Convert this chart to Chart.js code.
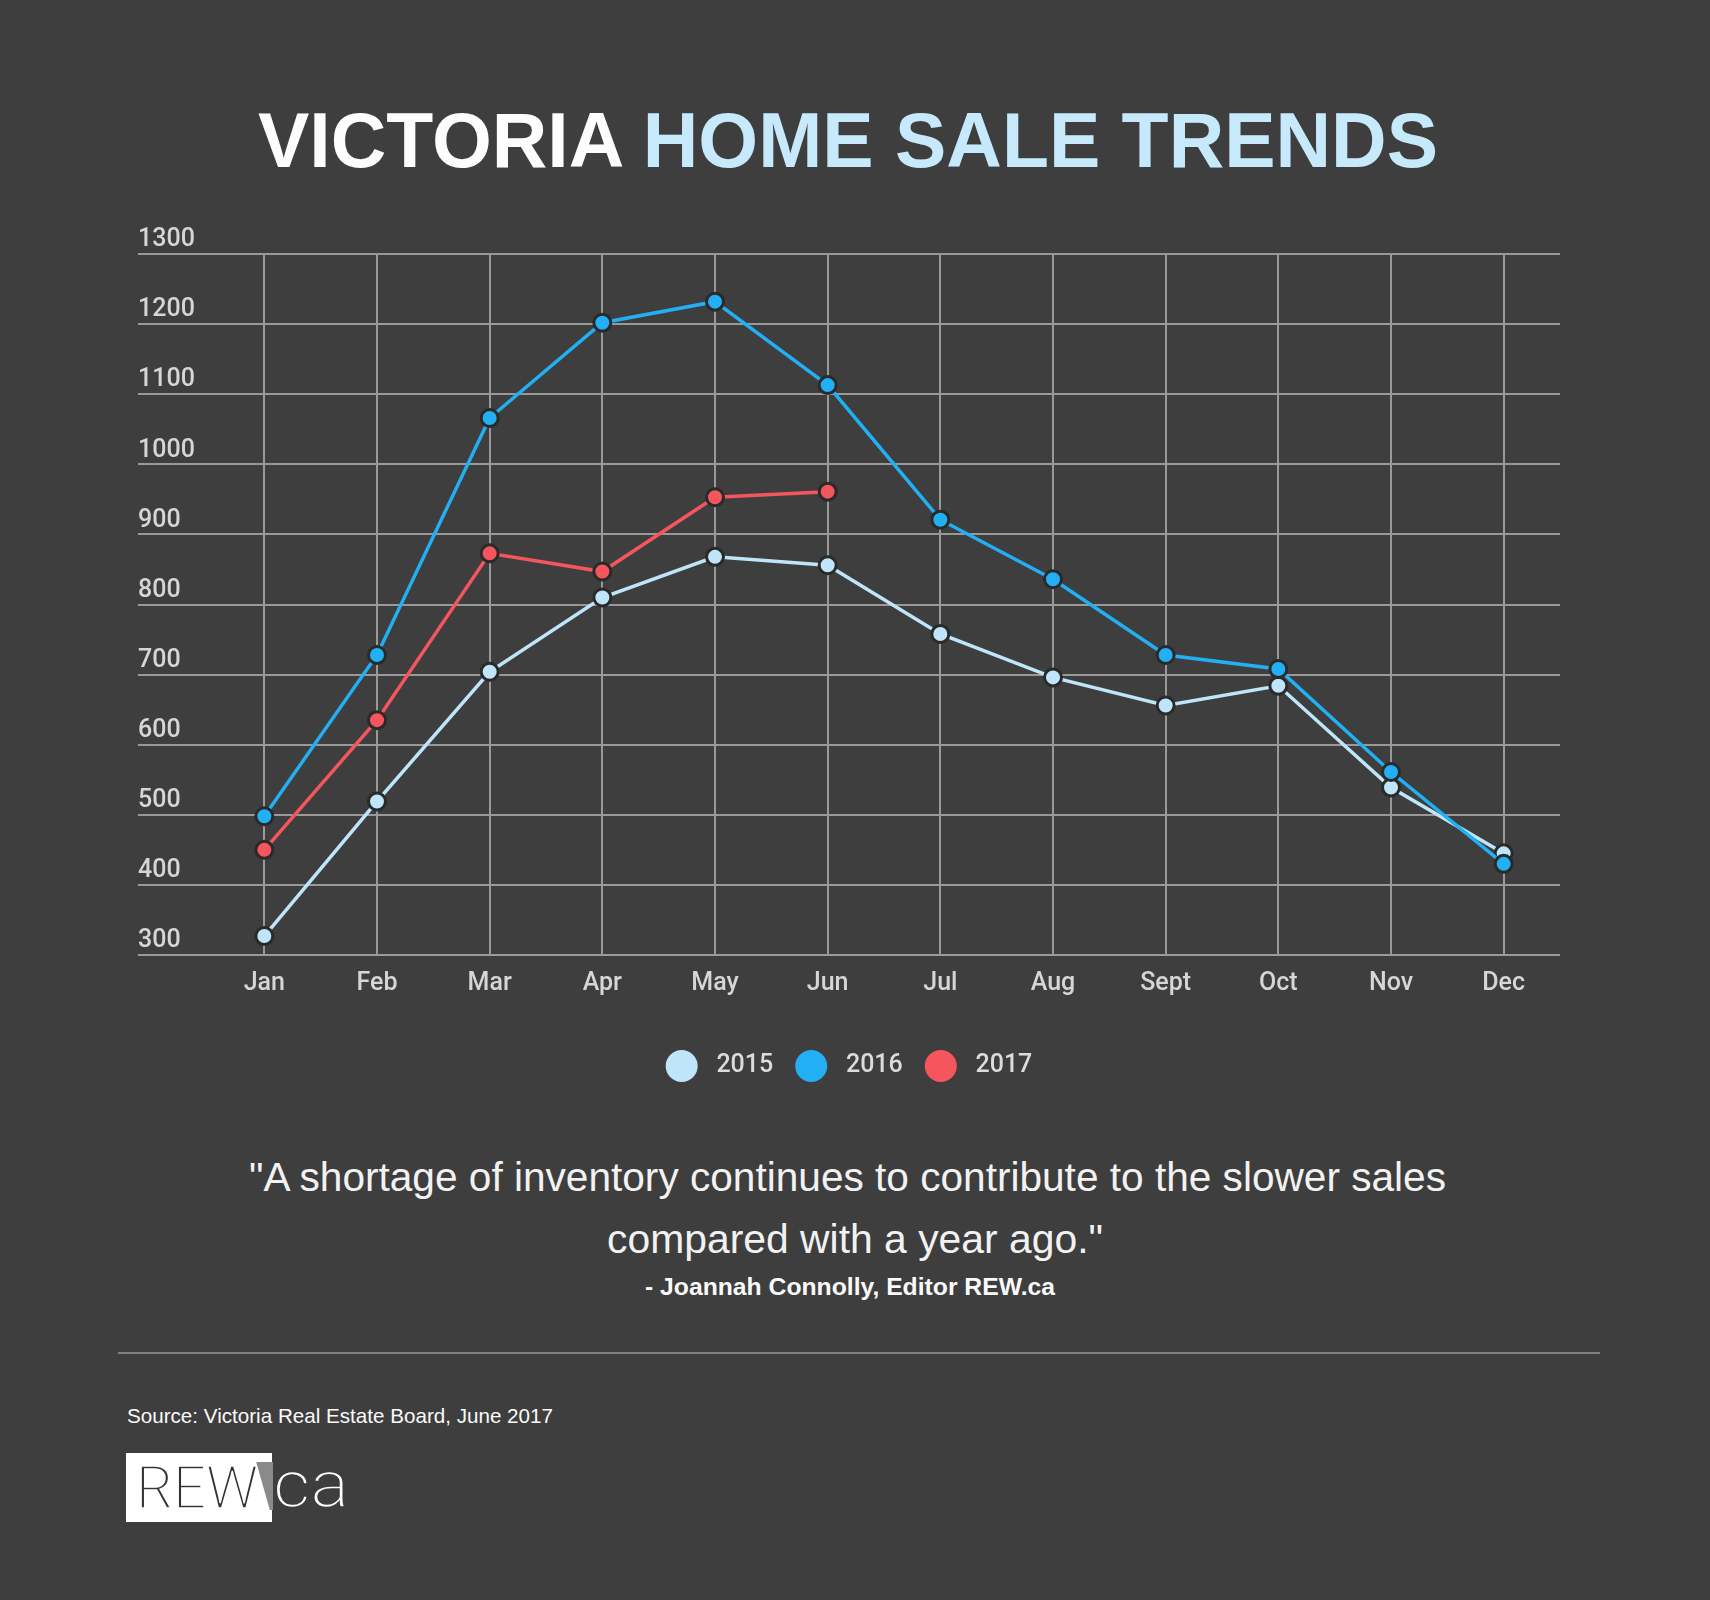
<!DOCTYPE html>
<html><head><meta charset="utf-8">
<script src="https://cdn.jsdelivr.net/npm/chart.js@4.4.1/dist/chart.umd.min.js"></script>
<style>
html,body{margin:0;padding:0;background:#3e3e3e;}
body{width:1710px;height:1600px;position:relative;overflow:hidden;font-family:"Liberation Sans",Arial,sans-serif;}
.t{position:absolute;white-space:nowrap;line-height:1;transform-origin:0 0;}
#title{left:258px;top:100.7px;font-size:78px;font-weight:bold;color:#fdfdfd;}
#title .hl{color:#c6e9fc;}
#chartWrap{position:absolute;left:0;top:200px;width:1710px;height:892px;}
.q{font-size:40.5px;color:#f2f2f2;}
#q1{left:249px;top:1156.7px;}
#q2{left:607px;top:1218.7px;}
#attr{left:645px;top:1275.3px;font-size:24.5px;font-weight:bold;color:#fafafa;}
#rule{position:absolute;left:118px;top:1352px;width:1482px;height:2px;background:#808080;}
#src{left:126.5px;top:1405.5px;font-size:20.3px;color:#fafafa;}
#logoBox{position:absolute;left:126px;top:1453px;width:146px;height:69px;background:#fff;}
.logo{font-family:"Roboto Light","Open Sans Light","Lato Light","Roboto","Open Sans",sans-serif;font-weight:300;}
#rew{left:136px;top:1458px;font-size:60px;color:#333;-webkit-text-stroke:1.4px #fff;}
#ca{left:273px;top:1452px;font-size:66px;color:#fff;-webkit-text-stroke:1.4px #3e3e3e;}
#fold{position:absolute;left:252px;top:1462px;width:21px;height:48px;background:#8a8a8a;clip-path:polygon(20% 0,100% 0,100% 100%,85% 100%);}
</style>
</head>
<body>
<div id="title" class="t" data-w="1180">VICTORIA <span class="hl">HOME SALE TRENDS</span></div>
<div id="chartWrap"><canvas id="c" width="1710" height="892"></canvas></div>
<div id="q1" class="t q" data-w="1197">"A shortage of inventory continues to contribute to the slower sales</div>
<div id="q2" class="t q" data-w="496">compared with a year ago."</div>
<div id="attr" class="t" data-w="410">- Joannah Connolly, Editor REW.ca</div>
<div id="rule"></div>
<div id="src" class="t" data-w="426">Source: Victoria Real Estate Board, June 2017</div>
<div id="logoBox"></div>
<div id="rew" class="t logo" data-w="122">REW</div>
<div id="fold"></div>
<div id="ca" class="t logo" data-w="76">ca</div>
<script>
// ---- data ----
const months = ['Jan','Feb','Mar','Apr','May','Jun','Jul','Aug','Sept','Oct','Nov','Dec'];
const seriesNames = ['2015','2016','2017'];
const sales2015 = [327, 519, 704, 810, 868, 856, 758, 696, 656, 684, 539, 445];
const sales2016 = [498, 728, 1066, 1202, 1232, 1113, 921, 836, 728, 708, 561, 430];
const sales2017 = [450, 635, 873, 847, 953, 961, null, null, null, null, null, null];
const yMin = 300, yMax = 1300, yStep = 100;

// ---- styles ----
const colors = ['#bfe5fa', '#22aff3', '#f5565e'];
const gridColor = '#999999';
const tickColor = '#d6d6d6';
const tickFont = {family: 'Roboto', size: 25, weight: '500'};

function mk(i, data, order) {
  return {
    label: seriesNames[i], data, order,
    borderColor: colors[i], backgroundColor: colors[i],
    borderWidth: 3.5,
    pointRadius: 8.5, pointBorderWidth: 3,
    pointBackgroundColor: colors[i], pointBorderColor: '#2a2a2a',
    tension: 0, spanGaps: false
  };
}

new Chart(document.getElementById('c'), {
  type: 'line',
  data: {
    labels: months,
    datasets: [mk(0, sales2015, 3), mk(1, sales2016, 2), mk(2, sales2017, 1)]
  },
  options: {
    responsive: false, animation: false, devicePixelRatio: 1,
    layout: {padding: {top: 54, left: 138, right: 150, bottom: 0}},
    plugins: {
      tooltip: {enabled: false},
      legend: {
        position: 'bottom',
        labels: {
          color: '#dcdcdc', font: {family: 'Roboto', size: 25, weight: '500'},
          boxWidth: 32, boxHeight: 32, useBorderRadius: true, borderRadius: 16,
          padding: 22,
          generateLabels(chart) {
            const items = Chart.defaults.plugins.legend.labels.generateLabels(chart);
            items.forEach(it => { it.lineWidth = 0; it.strokeStyle = 'rgba(0,0,0,0)'; it.text = ' ' + it.text; });
            return items.sort((a, b) => a.datasetIndex - b.datasetIndex);
          }
        }
      }
    },
    scales: {
      x: {
        offset: true,
        grid: {color: gridColor, lineWidth: 2, drawTicks: false},
        border: {display: false},
        ticks: {color: tickColor, font: tickFont, padding: 14, maxRotation: 0},
        afterFit(s) { s.height = 73; }
      },
      y: {
        min: yMin, max: yMax,
        grid: {color: gridColor, lineWidth: 2, tickLength: 70, tickColor: gridColor, tickWidth: 2},
        border: {display: false},
        ticks: {stepSize: yStep, color: tickColor, font: tickFont, crossAlign: 'far', labelOffset: -14, padding: 0,
                callback: v => String(v)},
        afterFit(s) { s.width = 70; }
      }
    }
  }
});

function fit() {
  document.querySelectorAll('[data-w]').forEach(el => {
    el.style.transform = 'none';
    const w = el.getBoundingClientRect().width;
    const target = parseFloat(el.dataset.w);
    if (w > 0) el.style.transform = 'scaleX(' + (target / w) + ')';
  });
}
fit();
if (document.fonts && document.fonts.ready) document.fonts.ready.then(fit);
</script>
</body></html>
